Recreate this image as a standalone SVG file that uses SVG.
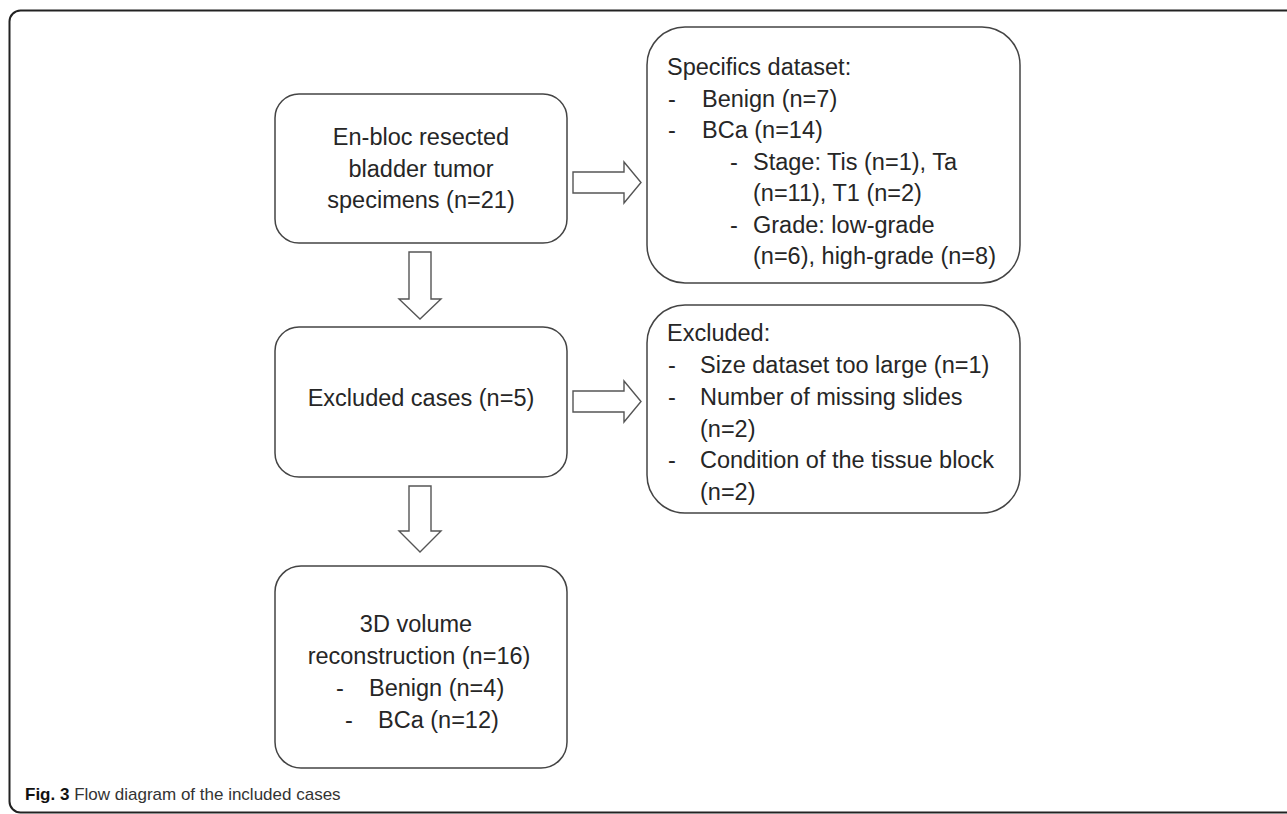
<svg xmlns="http://www.w3.org/2000/svg" width="1287" height="814" viewBox="0 0 1287 814">
<style>
.frame{fill:none;stroke:#222;stroke-width:2}
.box{fill:#fff;stroke:#444;stroke-width:1.5}
.arr{fill:#fff;stroke:#555;stroke-width:1.4;stroke-linejoin:miter}
.t{font-family:"Liberation Sans",Arial,sans-serif;font-size:23.5px;fill:#262626}
.c{text-anchor:middle}
.cap{font-family:"Liberation Sans",Arial,sans-serif;font-size:17px;fill:#333}
</style>
<rect width="1287" height="814" fill="#fff"/>
<rect class="frame" x="9.5" y="10.5" width="1300" height="802" rx="11"/>
<g id="n1">
<rect class="box" x="275" y="94" width="292" height="149" rx="24"/>
<text class="t c" x="421" y="145">En-bloc resected</text>
<text class="t c" x="421" y="177">bladder tumor</text>
<text class="t c" x="421" y="208">specimens (n=21)</text>
</g>
<g id="n2">
<rect class="box" x="275" y="327" width="292" height="150" rx="24"/>
<text class="t c" x="421" y="406">Excluded cases (n=5)</text>
</g>
<g id="n3">
<rect class="box" x="275" y="566" width="292" height="202" rx="26"/>
<text class="t c" x="416" y="632">3D volume</text>
<text class="t c" x="419" y="664">reconstruction (n=16)</text>
<text class="t" y="696"><tspan x="336">-</tspan><tspan x="369">Benign (n=4)</tspan></text>
<text class="t" y="728"><tspan x="345">-</tspan><tspan x="378">BCa (n=12)</tspan></text>
</g>
<g id="n4">
<rect class="box" x="647" y="27" width="373" height="256" rx="38"/>
<text class="t" x="667" y="75">Specifics dataset:</text>
<text class="t" y="106.5"><tspan x="668">-</tspan><tspan x="702">Benign (n=7)</tspan></text>
<text class="t" y="138"><tspan x="668">-</tspan><tspan x="702">BCa (n=14)</tspan></text>
<text class="t" y="169.5"><tspan x="730">-</tspan><tspan x="753">Stage: Tis (n=1), Ta</tspan></text>
<text class="t" x="753" y="201">(n=11), T1 (n=2)</text>
<text class="t" y="232.5"><tspan x="730">-</tspan><tspan x="753">Grade: low-grade</tspan></text>
<text class="t" x="753" y="264">(n=6), high-grade (n=8)</text>
</g>
<g id="n5">
<rect class="box" x="647" y="305" width="373" height="208" rx="38"/>
<text class="t" x="667" y="341">Excluded:</text>
<text class="t" y="373"><tspan x="668">-</tspan><tspan x="700">Size dataset too large (n=1)</tspan></text>
<text class="t" y="405"><tspan x="668">-</tspan><tspan x="700">Number of missing slides</tspan></text>
<text class="t" x="700" y="437">(n=2)</text>
<text class="t" y="468"><tspan x="668">-</tspan><tspan x="700">Condition of the tissue block</tspan></text>
<text class="t" x="700" y="500">(n=2)</text>
</g>
<g id="connectors">
<path class="arr" d="M409,252 H431 V299 H441 L420,319 L399,299 H409 Z"/>
<path class="arr" d="M409,486 H431 V531 H441 L420,552 L399,531 H409 Z"/>
<path class="arr" d="M573,172 H624 V162 L641,182.5 L624,203 V193 H573 Z"/>
<path class="arr" d="M573,391 H624 V381 L641,401.5 L624,422 V412 H573 Z"/>
</g>
<text class="cap" x="25" y="800"><tspan font-weight="bold" fill="#111">Fig. 3</tspan> Flow diagram of the included cases</text>
</svg>
